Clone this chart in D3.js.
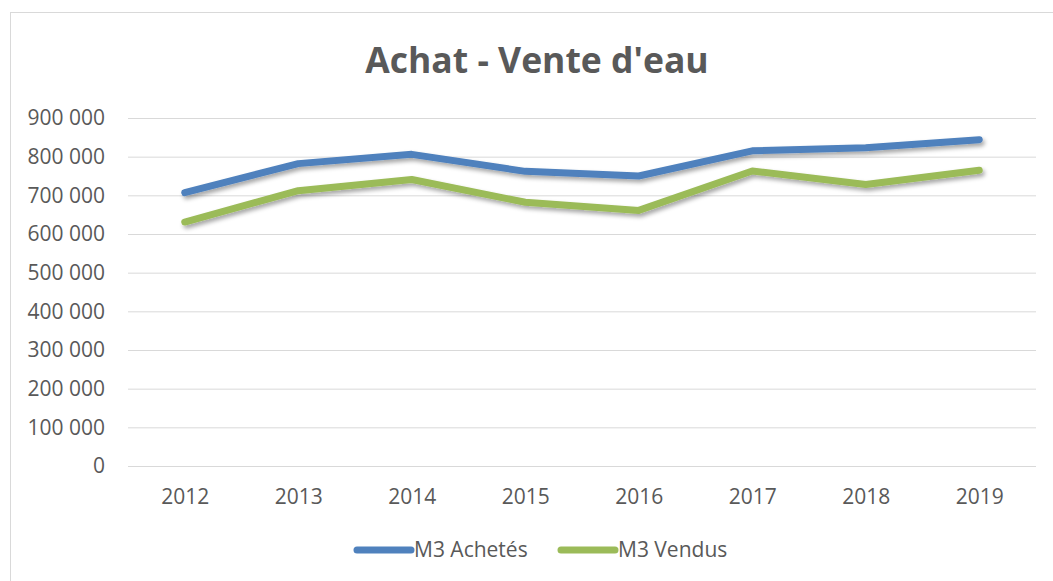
<!DOCTYPE html>
<html>
<head>
<meta charset="utf-8">
<script src="https://cdn.jsdelivr.net/npm/d3@7"></script>
<style>
  body { margin: 0; background: #fff; }
  svg { display: block; font-family: "Open Sans", sans-serif; }
</style>
</head>
<body>
<div id="chart"></div>
<script>
var width = 1053;
var height = 581;

// data
var years = ["2012", "2013", "2014", "2015", "2016", "2017", "2018", "2019"];
var achetes = [707000, 782000, 806000, 762000, 750000, 815000, 823000, 844000];
var vendus = [631000, 712000, 741000, 682000, 661000, 763000, 728000, 765000];
var seriesNames = ["M3 Achetés", "M3 Vendus"];
var seriesColors = ["#4f81bd", "#9bbb59"];
var yTicks = [0, 100000, 200000, 300000, 400000, 500000, 600000, 700000, 800000, 900000];

var plot = { left: 128, right: 1036, top: 118, bottom: 466 };

var svg = d3.select("#chart").append("svg")
    .attr("width", width)
    .attr("height", height);

// outer frame of the chart
svg.append("rect")
    .attr("x", 10.5).attr("y", 12.5)
    .attr("width", 1060).attr("height", 600)
    .attr("fill", "#fff")
    .attr("stroke", "#d9d9d9");

// shadow under the lines
var f = svg.append("defs").append("filter")
    .attr("id", "shadow")
    .attr("x", "-10%").attr("y", "-50%")
    .attr("width", "120%").attr("height", "200%");
f.append("feDropShadow")
    .attr("dx", 2).attr("dy", 3)
    .attr("stdDeviation", 2)
    .attr("flood-color", "#000")
    .attr("flood-opacity", 0.35);

svg.append("text")
    .attr("x", 537).attr("y", 73)
    .attr("text-anchor", "middle")
    .attr("font-size", 35.5)
    .attr("font-weight", "bold")
    .attr("fill", "#595959")
    .text("Achat - Vente d'eau");

var x = d3.scalePoint()
    .domain(years)
    .range([plot.left, plot.right])
    .padding(0.5);

var y = d3.scaleLinear()
    .domain([0, 900000])
    .range([plot.bottom, plot.top]);

var fr = d3.formatLocale({ decimal: ",", thousands: " ", grouping: [3], currency: ["", " €"] });
var fmt = fr.format(",d");

// y axis + gridlines
var gy = svg.append("g")
    .attr("transform", "translate(" + plot.left + ",0)")
    .call(d3.axisLeft(y)
        .tickValues(yTicks)
        .tickFormat(fmt)
        .tickSizeInner(-(plot.right - plot.left))
        .tickSizeOuter(0)
        .tickPadding(23));
gy.select(".domain").remove();
gy.selectAll("line").attr("stroke", "#d9d9d9").attr("stroke-width", 1);
gy.selectAll("text")
    .attr("fill", "#595959")
    .attr("font-size", 21)
    .attr("font-family", "Open Sans, sans-serif");

// x axis labels
var gx = svg.append("g")
    .attr("transform", "translate(0," + plot.bottom + ")")
    .call(d3.axisBottom(x).tickSize(0).tickPadding(23));
gx.select(".domain").remove();
gx.selectAll("text")
    .attr("fill", "#595959")
    .attr("font-size", 21)
    .attr("font-family", "Open Sans, sans-serif");

var line = d3.line()
    .x(function(d, i) { return x(years[i]); })
    .y(function(d) { return y(d); });

[achetes, vendus].forEach(function(vals, k) {
  svg.append("path")
      .datum(vals)
      .attr("d", line)
      .attr("fill", "none")
      .attr("stroke", seriesColors[k])
      .attr("stroke-width", 7)
      .attr("stroke-linecap", "round")
      .attr("stroke-linejoin", "round")
      .attr("filter", "url(#shadow)");
});

// legend
var legendX = [357, 561];
var leg = svg.append("g").selectAll("g")
    .data(seriesNames)
    .enter().append("g")
    .attr("transform", function(d, i) { return "translate(" + legendX[i] + ",550)"; });
leg.append("line")
    .attr("x1", 0).attr("x2", 54)
    .attr("stroke", function(d, i) { return seriesColors[i]; })
    .attr("stroke-width", 7)
    .attr("stroke-linecap", "round");
leg.append("text")
    .attr("x", 57).attr("dy", "0.35em")
    .attr("font-size", 21)
    .attr("fill", "#595959")
    .text(function(d) { return d; });
</script>
</body>
</html>
